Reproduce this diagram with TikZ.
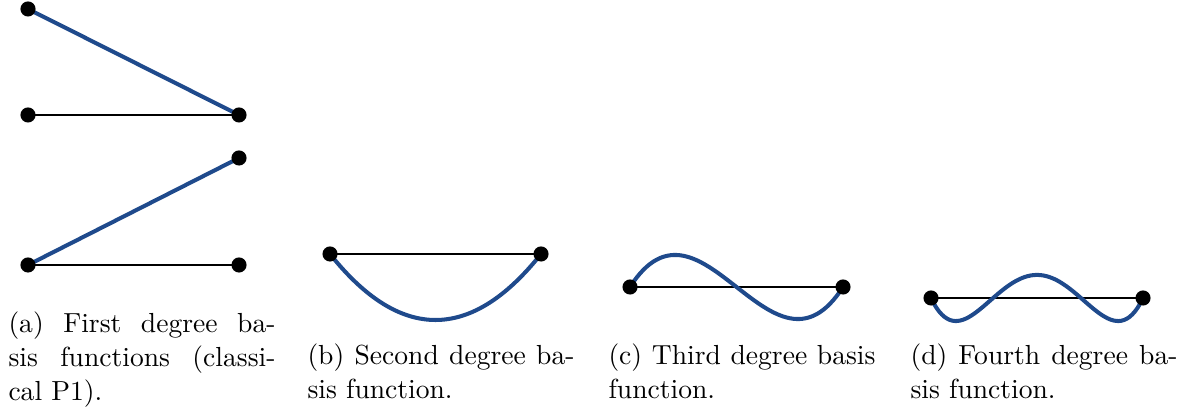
\documentclass[tikz,border=0pt]{standalone}
\usepackage{tikz}
\usetikzlibrary{backgrounds}
\definecolor{basisblue}{HTML}{1F4A8C}

\begin{document}
\begin{tikzpicture}[
  x=0.397pt, y=-0.397pt,
  font=\fontsize{10.95}{13.6}\selectfont,
  dof/.style={circle, fill=black, inner sep=0pt, minimum size=6pt},
  meshline/.style={draw=black, line width=1.1pt},
  basisline/.style={draw=basisblue, line width=1.6pt},
  capt/.style={anchor=north west, inner sep=0pt, text width=106pt, align=justify}
]
\useasboundingbox (0,0) rectangle (1191,412);

% ---------------- (a) first degree ----------------
\node[dof] (a0t) at (28,9)   {};
\node[dof] (a0l) at (28,115) {};
\node[dof] (a0r) at (239,115) {};
\node[dof] (a1t) at (239,158) {};
\node[dof] (a1l) at (28,265) {};
\node[dof] (a1r) at (239,265) {};

% ---------------- (b) second degree ----------------
\node[dof] (b0) at (330,254) {};
\node[dof] (b1) at (541,254) {};

% ---------------- (c) third degree ----------------
\node[dof] (c0) at (630,287) {};
\node[dof] (c1) at (843,287) {};

% ---------------- (d) fourth degree ----------------
\node[dof] (d0) at (931,298) {};
\node[dof] (d1) at (1143,298) {};

% ---------------- Elements and basis functions ----------------
\begin{scope}[on background layer]
  \draw[meshline] (a0l.center) -- (a0r.center);
  \draw[basisline] (a0t.center) -- (a0r.center);
  \draw[meshline] (a1l.center) -- (a1r.center);
  \draw[basisline] (a1l.center) -- (a1t.center);

  \draw[meshline] (b0.center) -- (b1.center);
  \draw[basisline] (b0.center) .. controls +(70,88) and +(-70,88) .. (b1.center);

  \draw[meshline] (c0.center) -- (c1.center);
  \draw[basisline] (c0.center) .. controls +(71,-111) and +(-71,111) .. (c1.center);

  \draw[meshline] (d0.center) -- (d1.center);
  \draw[basisline] plot[domain=0:1, samples=80, smooth]
    ({931+212*\x}, {298+2150*(0.25-(\x-0.5)^2)*((\x-0.5)^2-0.0429)});
\end{scope}

% ---------------- Captions ----------------
\node[capt] (capa) at (8,311)
  {(a) First degree ba-\linebreak sis functions (classi-\linebreak cal P1).};
\node[capt] (capb) at (307,343)
  {(b) Second degree ba-\linebreak sis function.};
\node[capt] (capc) at (608,343)
  {(c) Third degree basis\linebreak function.};
\node[capt] (capd) at (910,343)
  {(d) Fourth degree ba-\linebreak sis function.};

\end{tikzpicture}
\end{document}
